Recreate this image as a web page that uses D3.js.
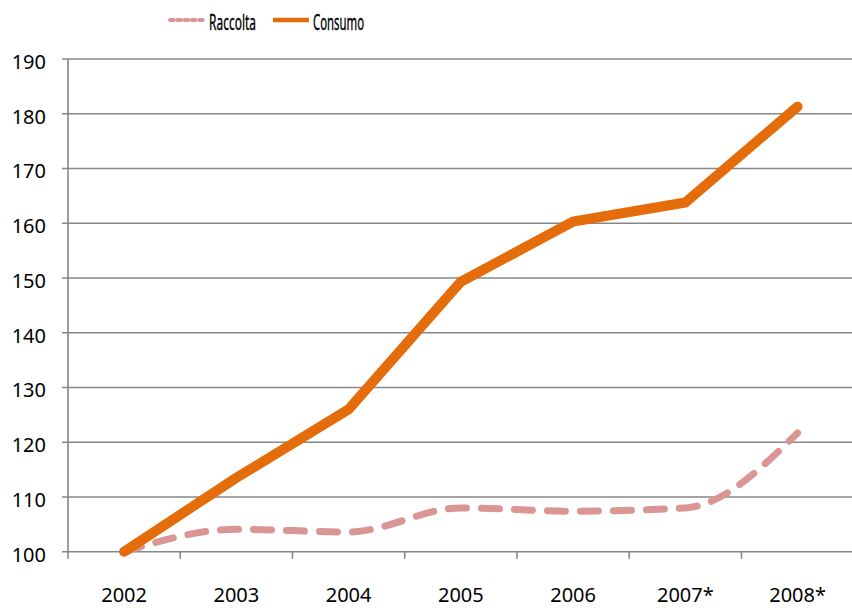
<!DOCTYPE html>
<html>
<head>
<meta charset="utf-8">
<script src="https://cdn.jsdelivr.net/npm/d3@7"></script>
<style>
  html, body { margin: 0; padding: 0; background: #fff; }
  svg { display: block; }
  text { font-family: "Noto Sans", "Open Sans", sans-serif; fill: #000; }
</style>
</head>
<body>
<svg id="chart" width="852" height="608"></svg>
<script>
// Index values, 2002 = 100
const years = ["2002", "2003", "2004", "2005", "2006", "2007*", "2008*"];
const raccolta = [100, 104.1, 103.6, 108.0, 107.4, 108.0, 121.7];
const consumo = [100, 113.5, 126.0, 149.3, 160.3, 163.8, 181.3];
const yTicks = [100, 110, 120, 130, 140, 150, 160, 170, 180, 190];

const seriesNames = ["Raccolta", "Consumo"];

const svg = d3.select("#chart");
const plot = { left: 68, right: 853.7, top: 59, bottom: 551.7 };
const gridColor = "#878787";

const xBand = d3.scaleBand().domain(years).range([plot.left, plot.right]);
const x = d => xBand(d) + xBand.bandwidth() / 2;
const y = d3.scaleLinear().domain([100, 190]).range([plot.bottom, plot.top]);

// horizontal gridlines
svg.append("g")
  .selectAll("line")
  .data(yTicks)
  .join("line")
  .attr("x1", plot.left - 6)
  .attr("x2", 852)
  .attr("y1", d => y(d))
  .attr("y2", d => y(d))
  .attr("stroke", gridColor)
  .attr("stroke-width", 1.6);

// y axis labels
svg.append("g")
  .selectAll("text")
  .data(yTicks)
  .join("text")
  .attr("x", 46)
  .attr("y", d => y(d) + 10)
  .attr("text-anchor", "end")
  .attr("font-size", 20)
  .text(d => d);

// vertical axis line
svg.append("line")
  .attr("x1", plot.left).attr("x2", plot.left)
  .attr("y1", plot.top).attr("y2", plot.bottom)
  .attr("stroke", gridColor)
  .attr("stroke-width", 1.6);

// category tick marks at band boundaries
const bounds = years.map(d => xBand(d)).concat([plot.right]);
svg.append("g")
  .selectAll("line")
  .data(bounds)
  .join("line")
  .attr("x1", d => d).attr("x2", d => d)
  .attr("y1", plot.bottom).attr("y2", plot.bottom + 7)
  .attr("stroke", gridColor)
  .attr("stroke-width", 1.6);

// x axis labels
svg.append("g")
  .selectAll("text")
  .data(years)
  .join("text")
  .attr("x", d => x(d))
  .attr("y", 601.5)
  .attr("text-anchor", "middle")
  .attr("font-size", 20)
  .text(d => d);

// series lines
const smoothLine = d3.line()
  .x((d, i) => x(years[i]))
  .y(d => y(d))
  .curve(d3.curveMonotoneX);

const straightLine = d3.line()
  .x((d, i) => x(years[i]))
  .y(d => y(d));

svg.append("path")
  .datum(raccolta)
  .attr("d", smoothLine)
  .attr("fill", "none")
  .attr("stroke", "#d99694")
  .attr("stroke-width", 7)
  .attr("stroke-linecap", "round")
  .attr("stroke-dasharray", "18 15");

svg.append("path")
  .datum(consumo)
  .attr("d", straightLine)
  .attr("fill", "none")
  .attr("stroke", "#e46c0a")
  .attr("stroke-width", 10)
  .attr("stroke-linecap", "round")
  .attr("stroke-linejoin", "miter");

// legend (narrow lettering)
const legend = svg.append("g");
legend.append("line")
  .attr("x1", 170).attr("x2", 203)
  .attr("y1", 20).attr("y2", 20)
  .attr("stroke", "#d99694")
  .attr("stroke-width", 4)
  .attr("stroke-linecap", "round")
  .attr("stroke-dasharray", "3.5 3.8");
legend.append("text")
  .attr("x", 209).attr("y", 30)
  .attr("font-size", 21)
  .attr("stroke", "#000")
  .attr("stroke-width", 0.35)
  .attr("textLength", 47)
  .attr("lengthAdjust", "spacingAndGlyphs")
  .text(seriesNames[0]);
legend.append("line")
  .attr("x1", 273).attr("x2", 309)
  .attr("y1", 20).attr("y2", 20)
  .attr("stroke", "#e46c0a")
  .attr("stroke-width", 4.5);
legend.append("text")
  .attr("x", 313).attr("y", 30)
  .attr("font-size", 21)
  .attr("stroke", "#000")
  .attr("stroke-width", 0.35)
  .attr("textLength", 51)
  .attr("lengthAdjust", "spacingAndGlyphs")
  .text(seriesNames[1]);
</script>
</body>
</html>
